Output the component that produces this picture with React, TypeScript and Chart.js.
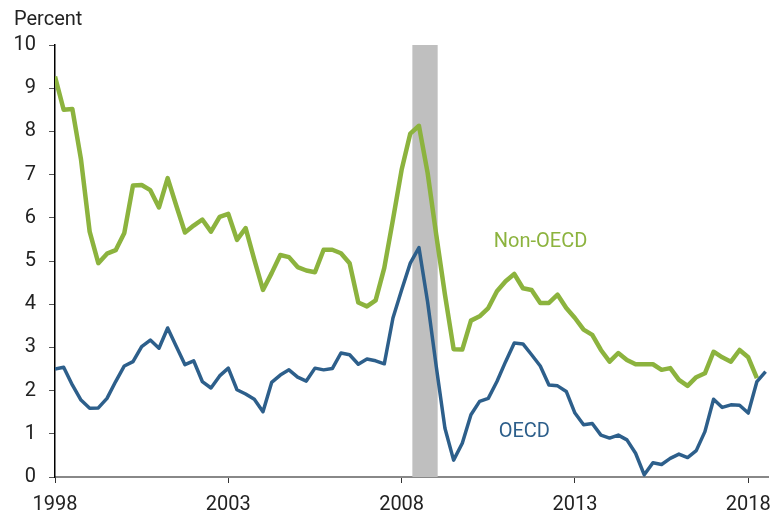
import React, { useEffect, useRef } from 'react';
import { Chart, registerables } from 'chart.js';

Chart.register(...registerables);

// Quarterly observations, 1998 Q1 onward
const startYear = 1998;
const nonOecd = [
  9.27, 8.5, 8.52, 7.35, 5.68, 4.95, 5.17, 5.25, 5.65, 6.75,
  6.76, 6.64, 6.24, 6.92, 6.28, 5.66, 5.82, 5.96, 5.68, 6.02,
  6.09, 5.49, 5.76, 5.03, 4.33, 4.72, 5.14, 5.09, 4.86, 4.78,
  4.74, 5.26, 5.26, 5.18, 4.95, 4.04, 3.95, 4.09, 4.84, 5.96,
  7.11, 7.95, 8.13, 7.04, 5.6, 4.22, 2.96, 2.95, 3.62, 3.72,
  3.91, 4.3, 4.53, 4.7, 4.37, 4.33, 4.03, 4.03, 4.22, 3.91,
  3.68, 3.41, 3.29, 2.94, 2.67, 2.87, 2.71, 2.61, 2.61, 2.61,
  2.48, 2.52, 2.25, 2.11, 2.31, 2.4, 2.9, 2.77, 2.67, 2.94,
  2.77, 2.29,
];
const oecd = [
  2.5, 2.54, 2.13, 1.78, 1.59, 1.6, 1.82, 2.21, 2.57, 2.67,
  3.02, 3.17, 2.98, 3.45, 3.02, 2.6, 2.69, 2.21, 2.06, 2.34,
  2.52, 2.02, 1.92, 1.8, 1.51, 2.19, 2.36, 2.48, 2.31, 2.22,
  2.52, 2.48, 2.51, 2.87, 2.83, 2.61, 2.73, 2.69, 2.62, 3.68,
  4.33, 4.95, 5.31, 4.05, 2.55, 1.13, 0.39, 0.78, 1.44, 1.75,
  1.82, 2.21, 2.67, 3.1, 3.08, 2.83, 2.57, 2.13, 2.11, 1.98,
  1.48, 1.21, 1.24, 0.97, 0.9, 0.97, 0.86, 0.55, 0.05, 0.33,
  0.29, 0.43, 0.53, 0.45, 0.61, 1.05, 1.8, 1.61, 1.67, 1.66,
  1.48, 2.21, 2.44,
];
const xTickYears = [1998, 2003, 2008, 2013, 2018];
const xRange = [1998, 2018.57];
const yRange = [0, 10];
const recession = [2008.31, 2009.04];
const seriesLabels = [
  { text: 'Non-OECD', x: 2010.66, y: 5.44, color: '#8cb33e' },
  { text: 'OECD', x: 2010.8, y: 1.04, color: '#2d5f8b' },
];
const yAxisTitle = 'Percent';

const GREEN = '#8cb33e';
const BLUE = '#2d5f8b';
const FONT = 'Roboto';

const quarterX = (i: number) => startYear + i * 0.25;

export default function App() {
  const ref = useRef<HTMLCanvasElement | null>(null);

  useEffect(() => {
    const canvas = ref.current;
    if (!canvas) return;

    const shadePlugin = {
      id: 'shade',
      beforeDatasetsDraw(chart: any) {
        const { ctx, scales } = chart;
        const x0 = scales.x.getPixelForValue(recession[0]);
        const x1 = scales.x.getPixelForValue(recession[1]);
        const yTop = scales.y.getPixelForValue(yRange[1]);
        const yBot = scales.y.getPixelForValue(yRange[0]);
        ctx.save();
        ctx.fillStyle = '#bfbfbf';
        ctx.fillRect(x0, yTop, x1 - x0, yBot - yTop);
        ctx.restore();
      },
    };

    const textPlugin = {
      id: 'texts',
      afterDatasetsDraw(chart: any) {
        const { ctx, scales } = chart;
        ctx.save();
        ctx.font = `20px ${FONT}`;
        ctx.textAlign = 'left';
        ctx.textBaseline = 'middle';
        for (const l of seriesLabels) {
          ctx.fillStyle = l.color;
          ctx.fillText(l.text, scales.x.getPixelForValue(l.x), scales.y.getPixelForValue(l.y));
        }
        ctx.fillStyle = '#222';
        ctx.textBaseline = 'alphabetic';
        ctx.fillText(yAxisTitle, 14, 25);
        ctx.restore();
      },
    };

    const chart = new Chart(canvas, {
      type: 'line',
      data: {
        datasets: [
          {
            label: 'OECD',
            data: oecd.map((v, i) => ({ x: quarterX(i), y: v })),
            borderColor: BLUE,
            borderWidth: 3.5,
            pointRadius: 0,
            tension: 0,
            borderJoinStyle: 'round',
            fill: false,
          },
          {
            label: 'Non-OECD',
            data: nonOecd.map((v, i) => ({ x: quarterX(i), y: v })),
            borderColor: GREEN,
            borderWidth: 4.5,
            pointRadius: 0,
            tension: 0,
            borderJoinStyle: 'round',
            fill: false,
          },
        ],
      },
      options: {
        animation: false,
        responsive: false,
        maintainAspectRatio: false,
        layout: { padding: { top: 45, right: 15, left: 0, bottom: 0 } },
        plugins: { legend: { display: false }, tooltip: { enabled: false } },
        scales: {
          x: {
            type: 'linear',
            min: xRange[0],
            max: xRange[1],
            afterBuildTicks: (scale: any) => {
              scale.ticks = xTickYears.map((v) => ({ value: v }));
            },
            afterFit: (scale: any) => {
              scale.height = 40;
            },
            grid: {
              display: true,
              drawOnChartArea: false,
              drawTicks: true,
              tickLength: 6,
              tickColor: '#333',
            },
            border: { display: true, color: '#888', width: 2 },
            ticks: {
              autoSkip: false,
              maxRotation: 0,
              padding: 10,
              color: '#222',
              font: { family: FONT, size: 20 },
              callback: (v: any) => String(v),
            },
          },
          y: {
            type: 'linear',
            min: yRange[0],
            max: yRange[1],
            afterFit: (scale: any) => {
              scale.width = 55;
            },
            grid: {
              display: true,
              drawOnChartArea: false,
              drawTicks: true,
              tickLength: 6,
              tickColor: '#555',
            },
            border: { display: true, color: '#000', width: 1.5 },
            ticks: {
              stepSize: 1,
              padding: 13,
              color: '#222',
              font: { family: FONT, size: 20 },
            },
          },
        },
      },
      plugins: [shadePlugin, textPlugin],
    } as any);

    return () => chart.destroy();
  }, []);

  return (
    <div style={{ position: 'fixed', left: 0, top: 0, width: 783, height: 517, background: '#fff' }}>
      <canvas ref={ref} width={783} height={517} style={{ display: 'block', width: 783, height: 517 }} />
    </div>
  );
}
